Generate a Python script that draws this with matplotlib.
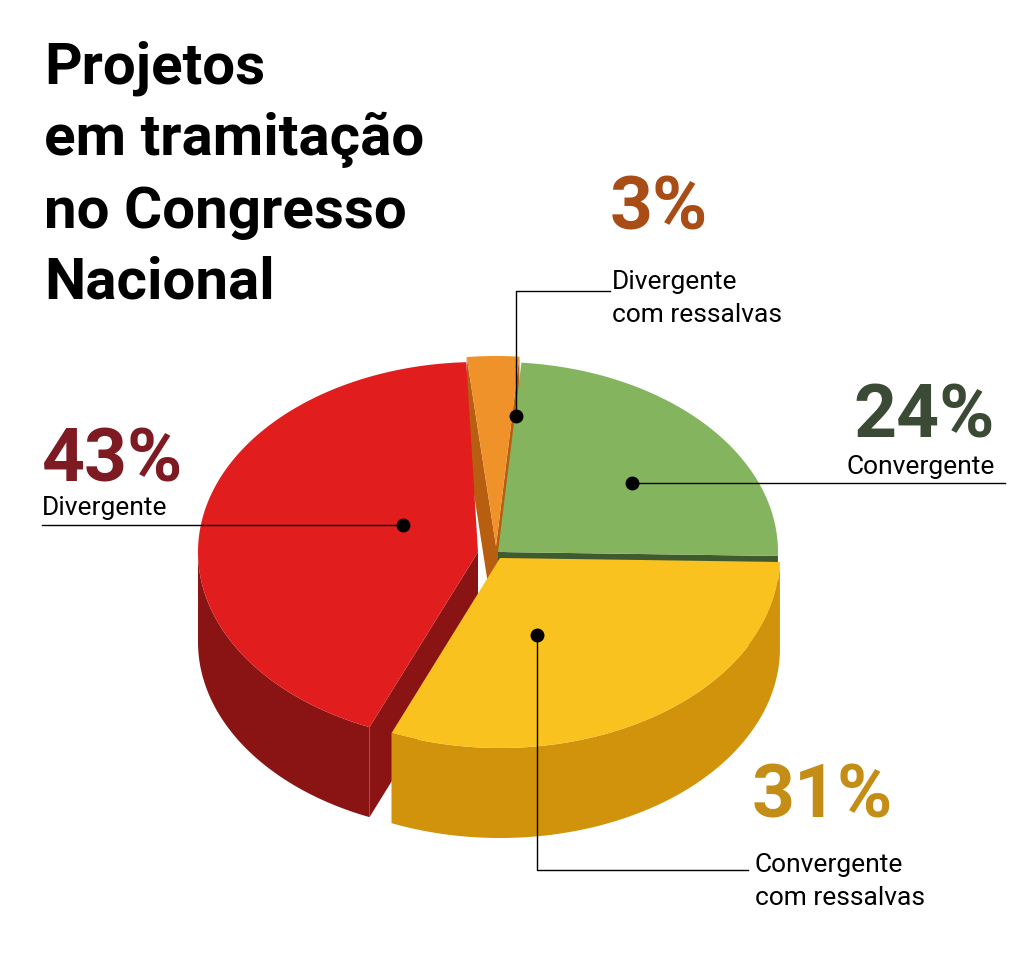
import matplotlib.pyplot as plt
import numpy as np
from matplotlib.patches import Polygon

labels = ['Divergente\ncom ressalvas', 'Convergente', 'Convergente\ncom ressalvas', 'Divergente']
values = [3, 24, 31, 43]
top_colors = ['#f0922a', '#84b55e', '#f9c21e', '#e11d1d']
side_colors = ['#b85e10', '#3f5a2e', '#d2930c', '#8a1414']
pct_colors = ['#a94d17', '#3b4a34', '#c38d16', '#7d1a22']
explode = [(4, -6), (6, 0), (8, 6), (-14, 0)]

cx, cy, rx, ry, depth = 492, 552, 280, 190, 90
start = 96.0

fig = plt.figure(figsize=(10.24, 9.68), dpi=100)
ax = fig.add_axes([0, 0, 1, 1])
ax.set_xlim(0, 1024)
ax.set_ylim(968, 0)
ax.axis('off')

def pt(t, ox, oy, d=0):
    return cx + ox + rx * np.cos(t), cy + oy - ry * np.sin(t) + d

slices = []
a0 = start
for v, tc, sc, ex in zip(values, top_colors, side_colors, explode):
    a1 = a0 - v * 3.6
    slices.append((np.radians(a1), np.radians(a0), tc, sc, ex))
    a0 = a1

# back to front
slices.sort(key=lambda s: -np.sin((s[0] + s[1]) / 2))
for t1, t0, tc, sc, (ox, oy) in slices:
    c = (cx + ox, cy + oy)
    for t, vis in ((t1, np.cos(t1) > 0), (t0, np.cos(t0) < 0)):
        if not vis:
            continue
        p = pt(t, ox, oy)
        ax.add_patch(Polygon([c, p, (p[0], p[1] + depth), (c[0], c[1] + depth)],
                             closed=True, fc=sc, ec='none'))
    ts = np.linspace(t1, t0, 200)
    ts = ts[np.sin(ts) < 0.02]
    if len(ts):
        top = [pt(t, ox, oy) for t in ts]
        bot = [pt(t, ox, oy, depth) for t in ts[::-1]]
        ax.add_patch(Polygon(top + bot, closed=True, fc=sc, ec='none'))
    ts = np.linspace(t1, t0, 200)
    ax.add_patch(Polygon([c] + [pt(t, ox, oy) for t in ts], closed=True, fc=tc, ec='none'))

font = ['Roboto', 'DejaVu Sans']
ax.text(44, 40, 'Projetos\nem tramitação\nno Congresso\nNacional', fontsize=42, fontweight='bold',
        family=font, va='top', linespacing=1.38)

# 43%
ax.text(42, 482, f'{values[3]}%', fontsize=54, fontweight='bold', color=pct_colors[3], family=font)
ax.text(42, 515, labels[3], fontsize=19, family=font)
ax.plot([42, 403], [525, 525], color='k', lw=1)
ax.plot(403, 525, 'ko', ms=9)
# 24%
ax.text(995, 438, f'{values[1]}%', fontsize=54, fontweight='bold', color=pct_colors[1], family=font, ha='right')
ax.text(995, 474, labels[1], fontsize=19, family=font, ha='right')
ax.plot([632, 1005], [483, 483], color='k', lw=1)
ax.plot(632, 483, 'ko', ms=9)
# 3%
ax.text(610, 230, f'{values[0]}%', fontsize=54, fontweight='bold', color=pct_colors[0], family=font)
ax.text(612, 322, labels[0], fontsize=19, family=font, linespacing=1.45)
ax.plot([610, 516, 516], [291, 291, 416], color='k', lw=1)
ax.plot(516, 416, 'ko', ms=9)
# 31%
ax.text(752, 818, f'{values[2]}%', fontsize=54, fontweight='bold', color=pct_colors[2], family=font)
ax.text(755, 905, labels[2], fontsize=19, family=font, linespacing=1.45)
ax.plot([537, 537, 748], [635, 870, 870], color='k', lw=1)
ax.plot(537, 635, 'ko', ms=9)

fig.savefig('out.png', dpi=100)
